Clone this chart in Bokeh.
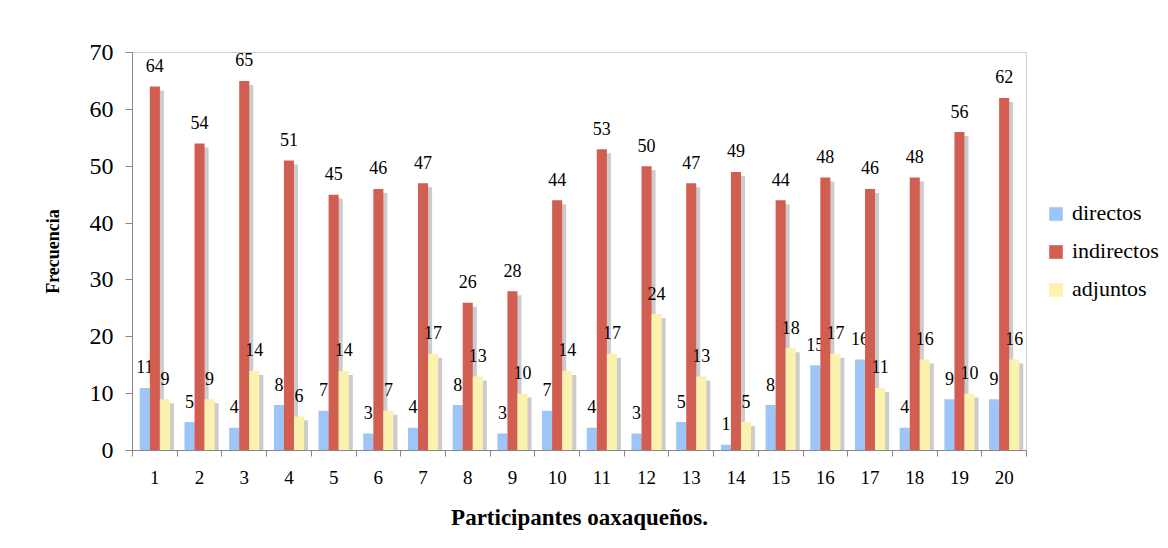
from bokeh.plotting import figure
from bokeh.layouts import row
from bokeh.models import (ColumnDataSource, Range1d, FixedTicker, Legend, LegendItem)
from bokeh.core.properties import value
from bokeh.embed import file_html
from bokeh.resources import INLINE

participants = [str(i) for i in range(1, 21)]
directos = [11, 5, 4, 8, 7, 3, 4, 8, 3, 7, 4, 3, 5, 1, 8, 15, 16, 4, 9, 9]
indirectos = [64, 54, 65, 51, 45, 46, 47, 26, 28, 44, 53, 50, 47, 49, 44, 48, 46, 48, 56, 62]
adjuntos = [9, 9, 14, 6, 14, 7, 17, 13, 10, 14, 17, 24, 13, 5, 18, 17, 11, 16, 10, 16]
series_names = ["directos", "indirectos", "adjuntos"]
y_ticks = [0, 10, 20, 30, 40, 50, 60, 70]

colors = ["#9EC5F8", "#D25E52", "#FAF2AE"]
shadow_color = "#CCCCCC"
SERIF = "Liberation Serif"

W = 0.225
offsets = [-W, 0.0, W]
sh_dx = 0.09
sh_dy = 0.7

p = figure(width=1028, height=548, output_backend="svg", toolbar_location=None,
           x_range=Range1d(0.5, 20.5), y_range=Range1d(0, 70),
           min_border_left=132, min_border_right=2, min_border_top=52,
           min_border_bottom=98)
p.background_fill_color = "white"
p.border_fill_color = "white"
p.outline_line_color = "#D0D0D0"
p.xgrid.grid_line_color = None
p.ygrid.grid_line_color = None

xs = list(range(1, len(participants) + 1))
data_series = [directos, indirectos, adjuntos]

# shadows
for vals, off in zip(data_series, offsets):
    src = ColumnDataSource(dict(x=[x + off + sh_dx for x in xs],
                                top=[max(v - sh_dy, 0) for v in vals]))
    p.vbar(x="x", top="top", bottom=0, width=W, source=src,
           fill_color=shadow_color, line_color=None)

for name, vals, off, col in zip(series_names, data_series, offsets, colors):
    src = ColumnDataSource(dict(x=[x + off for x in xs], top=vals,
                                lab=[str(v) for v in vals]))
    p.vbar(x="x", top="top", bottom=0, width=W, source=src,
           fill_color=col, line_color=None)
    p.text(x="x", y="top", text="lab", source=src, y_offset=-21,
           text_align="center", text_baseline="alphabetic",
           text_font=value(SERIF), text_font_size="18px", text_color="black")

# axes
xa = p.xaxis[0]
xa.ticker = FixedTicker(ticks=xs, minor_ticks=[x - 0.5 for x in xs] + [20.5])
xa.major_label_overrides = {x: lab for x, lab in zip(xs, participants)}
xa.major_tick_line_color = None
xa.major_tick_out = 0
xa.major_tick_in = 0
xa.minor_tick_line_color = "#888888"
xa.minor_tick_out = 6
xa.minor_tick_in = 0
xa.axis_line_color = "#888888"
xa.major_label_text_font = SERIF
xa.major_label_text_font_size = "19px"
xa.major_label_text_color = "black"
xa.major_label_standoff = 14
xa.axis_label = "Participantes oaxaqueños."
xa.axis_label_text_font = SERIF
xa.axis_label_text_font_style = "bold"
xa.axis_label_text_font_size = "23px"
xa.axis_label_text_color = "black"
xa.axis_label_standoff = 18

ya = p.yaxis[0]
ya.ticker = FixedTicker(ticks=y_ticks)
ya.minor_tick_line_color = None
ya.major_tick_line_color = "#888888"
ya.major_tick_out = 7
ya.major_tick_in = 0
ya.axis_line_color = "#888888"
ya.major_label_text_font = SERIF
ya.major_label_text_font_size = "24px"
ya.major_label_text_color = "black"
ya.major_label_standoff = 12
ya.axis_label = "Frecuencia"
ya.axis_label_text_font = SERIF
ya.axis_label_text_font_style = "bold"
ya.axis_label_text_font_size = "18px"
ya.axis_label_text_color = "black"
ya.axis_label_standoff = 24

# legend panel
q = figure(width=140, height=548, output_backend="svg", toolbar_location=None,
           x_range=Range1d(0, 1), y_range=Range1d(0, 1),
           min_border=0, min_border_left=0, min_border_right=0,
           min_border_top=0, min_border_bottom=0)
q.axis.visible = False
q.grid.visible = False
q.outline_line_color = None
q.background_fill_color = "white"
q.border_fill_color = "white"
items = []
for name, col in zip(series_names, colors):
    # zero-height placeholder outside the visible range, only for the legend swatch
    r = q.vbar(x=[5], top=[0], bottom=0, width=0.1, fill_color=col, line_color=None)
    items.append(LegendItem(label=name, renderers=[r]))

legend = Legend(items=items, location=(19, 148), orientation="vertical")
legend.label_text_font = SERIF
legend.label_text_font_size = "22px"
legend.label_text_color = "black"
legend.glyph_width = 17
legend.glyph_height = 17
legend.label_height = 17
legend.label_standoff = 8
legend.spacing = 12
legend.padding = 0
legend.margin = 0
legend.border_line_color = None
legend.background_fill_alpha = 0
q.add_layout(legend)

layout = row(p, q, spacing=0)
open("out.html", "w").write(file_html(layout, INLINE))
